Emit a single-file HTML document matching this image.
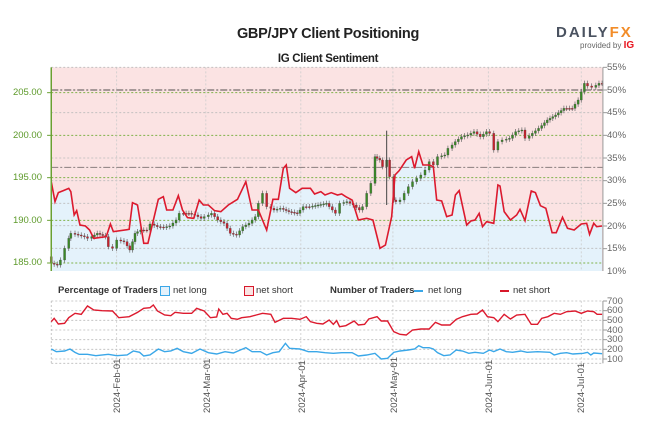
<!DOCTYPE html>
<html><head><meta charset="utf-8"><style>
body{margin:0;background:#fff;width:649px;height:424px;overflow:hidden;position:relative;font-family:"Liberation Sans",sans-serif}
.t{position:absolute;white-space:nowrap}
.gl{color:#5d9a2a;font-size:9.5px;text-align:right;width:40px;left:2px}
.gr{color:#666;font-size:9.5px;left:607px}
.lg{font-size:9.5px;color:#333;top:285px}
.dt{position:absolute;font-size:9.5px;color:#555;transform:rotate(-90deg);transform-origin:left top;white-space:nowrap}
</style></head><body>
<svg id="s" width="649" height="424" viewBox="0 0 1557.6 1272" preserveAspectRatio="none" style="position:absolute;left:0;top:0">
<g id="g"></g>
</svg>
<div class="t" style="left:0;width:656px;text-align:center;top:26px;font-size:14.5px;font-weight:bold;color:#222;letter-spacing:-0.3px">GBP/JPY Client Positioning</div>
<div class="t" style="left:0;width:656px;text-align:center;top:53px;font-size:11.5px;font-weight:bold;color:#222;letter-spacing:-0.3px">IG Client Sentiment</div>
<div class="t" style="left:556px;top:24px;font-size:15px;font-weight:bold;letter-spacing:2px;color:#4a5260">DAILY<span style="color:#f28c28">FX</span></div>
<div class="t" style="left:580px;top:40px;font-size:8px;color:#666">provided by <b style="color:#e8141e;font-size:10px">IG</b></div>
<div class="t gl" style="top:87px">205.00</div>
<div class="t gl" style="top:130px">200.00</div>
<div class="t gl" style="top:172px">195.00</div>
<div class="t gl" style="top:215px">190.00</div>
<div class="t gl" style="top:257px">185.00</div>
<div class="t gr" style="top:62px">55%</div>
<div class="t gr" style="top:85px">50%</div>
<div class="t gr" style="top:107px">45%</div>
<div class="t gr" style="top:130px">40%</div>
<div class="t gr" style="top:153px">35%</div>
<div class="t gr" style="top:175px">30%</div>
<div class="t gr" style="top:198px">25%</div>
<div class="t gr" style="top:221px">20%</div>
<div class="t gr" style="top:243px">15%</div>
<div class="t gr" style="top:266px">10%</div>
<div class="t gr" style="top:296px">700</div>
<div class="t gr" style="top:305px">600</div>
<div class="t gr" style="top:315px">500</div>
<div class="t gr" style="top:325px">400</div>
<div class="t gr" style="top:334px">300</div>
<div class="t gr" style="top:344px">200</div>
<div class="t gr" style="top:354px">100</div>
<div class="t lg" style="left:58px;font-weight:bold">Percentage of Traders</div>
<div class="t" style="left:160px;top:286px;width:8px;height:8px;border:1.5px solid #3aa7e8;background:#e3f1fb"></div>
<div class="t lg" style="left:173px">net long</div>
<div class="t" style="left:244px;top:286px;width:8px;height:8px;border:1.5px solid #d7182a;background:#fae3e3"></div>
<div class="t lg" style="left:256px">net short</div>
<div class="t lg" style="left:330px;font-weight:bold">Number of Traders</div>
<div class="t" style="left:414px;top:290px;width:9px;height:2px;background:#3aa7e8"></div>
<div class="t lg" style="left:428px">net long</div>
<div class="t" style="left:500px;top:290px;width:9px;height:2px;background:#d7182a"></div>
<div class="t lg" style="left:513px">net short</div>
<div class="dt" style="left:112px;top:413px">2024-Feb-01</div>
<div class="dt" style="left:202px;top:413px">2024-Mar-01</div>
<div class="dt" style="left:297px;top:413px">2024-Apr-01</div>
<div class="dt" style="left:389px;top:413px">2024-May-01</div>
<div class="dt" style="left:484px;top:413px">2024-Jun-01</div>
<div class="dt" style="left:576px;top:413px">2024-Jul-01</div>
<script>
const g=document.getElementById('g');const NS='http://www.w3.org/2000/svg';
function el(t,a){const e=document.createElementNS(NS,t);for(const k in a)e.setAttribute(k,a[k]);e.setAttribute('vector-effect','non-scaling-stroke');g.appendChild(e);return e;}
function P(s){return s.trim().split(/\s+/).map(p=>p.split(',').map(Number));}
const L=123,R=1447,T=202,B=813;
el('rect',{x:L,y:T,width:R-L,height:B-T,fill:'#fbe3e3'});
const sent=P(`123,545 132,605 140,578 152,572 165,565 170,575 178,645 184,632 192,675 205,678 215,690 225,715 255,710 265,672 272,695 310,688 318,608 330,615 345,730 355,730 380,598 392,590 400,630 415,630 428,587 438,630 450,653 465,655 478,600 488,615 500,615 515,632 530,635 548,615 570,598 590,545 605,630 620,630 640,690 655,598 668,598 680,505 687,495 695,565 710,578 725,565 745,565 755,582 770,575 780,585 795,578 810,585 820,582 830,590 845,600 860,660 880,655 895,660 912,745 925,735 940,650 948,525 958,512 975,480 988,470 995,505 1005,455 1015,495 1030,495 1040,500 1048,600 1060,603 1072,650 1085,645 1093,585 1102,572 1120,675 1130,663 1140,660 1150,640 1158,680 1168,665 1185,670 1195,555 1200,558 1210,635 1225,660 1240,645 1248,628 1260,662 1275,573 1285,578 1297,617 1310,625 1325,698 1335,698 1350,652 1362,685 1378,690 1395,672 1408,670 1415,703 1425,670 1432,680 1445,678`);
el('polygon',{points:sent.map(p=>p.join(',')).join(' ')+` 1445,${B} 123,${B}`,fill:'#e4f2fb'});
[278,406,533,661,789].forEach(y=>el('line',{x1:L,x2:R,y1:y,y2:y,stroke:'#7fb34a','stroke-dasharray':'2,2','stroke-width':1}));
[202,338,474,542,610,677,745].forEach(y=>el('line',{x1:L,x2:R,y1:y,y2:y,stroke:'#bbb','stroke-dasharray':'2,2','stroke-width':0.8}));
[280,494,722,943,1172,1395].forEach(x=>{el('line',{x1:x,x2:x,y1:T,y2:B,stroke:'#ccc','stroke-dasharray':'2,2','stroke-width':0.8});el('line',{x1:x,x2:x,y1:903,y2:1090,stroke:'#ccc','stroke-dasharray':'2,2','stroke-width':0.8});el('line',{x1:x,x2:x,y1:1090,y2:1100,stroke:'#999','stroke-width':1});});
el('line',{x1:L,x2:R,y1:270,y2:270,stroke:'#8a7f7f','stroke-dasharray':'7,2,2,2','stroke-width':1.5});
el('line',{x1:L,x2:R,y1:502,y2:502,stroke:'#8a7f7f','stroke-dasharray':'7,2,2,2','stroke-width':1});
const pr=P(`123,770 130,790 145,795 155,780 165,745 170,715 180,700 195,705 210,710 220,715 240,700 260,710 270,740 280,745 290,720 305,725 318,750 330,700 345,690 360,690 370,672 385,680 400,682 415,678 430,660 440,640 460,640 475,645 490,655 500,650 515,640 530,660 545,670 560,700 575,705 590,680 605,670 620,650 630,610 640,580 650,620 665,630 680,625 700,635 720,640 735,620 750,620 770,615 790,610 805,630 815,640 825,610 840,605 855,615 870,630 880,620 890,580 900,550 905,470 918,480 928,500 935,480 945,530 950,600 960,605 970,600 980,580 990,560 1000,545 1010,535 1020,525 1030,510 1040,485 1050,495 1060,470 1075,465 1085,445 1100,425 1115,410 1130,405 1145,395 1160,410 1175,395 1185,400 1195,450 1205,425 1215,420 1230,415 1245,395 1260,390 1270,415 1285,400 1300,385 1320,360 1340,345 1360,325 1380,325 1395,300 1410,250 1420,258 1430,262 1445,250`);
let prev=pr[0][1];
for(let i=0;i<pr.length;i++){const [x,y]=pr[i];const n=i<pr.length-1?Math.max(1,Math.round((pr[i+1][0]-x)/8)):1;
 for(let k=0;k<n;k++){const cx=x+k*((i<pr.length-1?pr[i+1][0]:x+8)-x)/n;const ny=i<pr.length-1?y+(pr[i+1][1]-y)*(k+1)/n:y;
 const up=ny<prev;const top=Math.min(prev,ny),bot=Math.max(prev,ny);
 el('line',{x1:cx,x2:cx,y1:top-8,y2:bot+8,stroke:'#666','stroke-width':0.7});
 el('rect',{x:cx-2.5,y:top,width:5,height:Math.max(3,bot-top),fill:up?'#3a8a26':'#c8202c',stroke:'#444','stroke-width':0.3});
 prev=ny;}}
el('line',{x1:928,x2:928,y1:392,y2:615,stroke:'#444','stroke-width':1});
el('polyline',{points:sent.map(p=>p.join(',')).join(' '),fill:'none',stroke:'#dc1a2e','stroke-width':1.6});
el('line',{x1:L,x2:L,y1:T,y2:B,stroke:'#6aa032','stroke-width':1.5});
el('line',{x1:R,x2:R,y1:T,y2:B,stroke:'#999','stroke-width':1});
for(let y=202;y<=813;y+=68)el('line',{x1:R,x2:R+10,y1:y,y2:y,stroke:'#999','stroke-width':1});
[278,406,533,661,789].forEach(y=>el('line',{x1:L-10,x2:L,y1:y,y2:y,stroke:'#6aa032','stroke-width':1}));
[903,932,961,990,1019,1048,1077,1090].forEach(y=>el('line',{x1:L,x2:R,y1:y,y2:y,stroke:'#bbb','stroke-dasharray':'2,2','stroke-width':0.8}));
el('line',{x1:L,x2:L,y1:903,y2:1090,stroke:'#bbb','stroke-dasharray':'2,2','stroke-width':0.8});
el('line',{x1:R,x2:R,y1:903,y2:1090,stroke:'#999','stroke-width':1});
[903,932,961,990,1019,1048,1077].forEach(y=>el('line',{x1:R,x2:R+10,y1:y,y2:y,stroke:'#999','stroke-width':1}));
const rs=P(`123,965 130,955 140,972 155,970 165,953 180,940 195,943 210,918 225,930 245,932 270,933 285,953 310,950 330,937 345,925 360,923 368,915 378,933 395,945 410,947 420,937 440,940 460,940 472,925 490,933 505,953 520,951 525,927 535,943 545,940 555,955 570,958 580,953 600,950 615,945 630,940 650,943 660,967 680,955 700,955 720,958 735,950 745,965 760,970 775,972 790,960 800,973 808,962 815,980 830,977 850,963 860,975 875,973 885,957 905,950 915,963 930,963 945,995 960,1003 975,1005 990,990 1010,987 1030,987 1045,967 1060,975 1080,975 1095,958 1110,950 1130,943 1145,942 1158,930 1170,950 1185,953 1195,965 1210,943 1225,957 1240,945 1260,943 1275,973 1290,973 1300,955 1315,950 1330,940 1345,943 1360,935 1380,933 1395,940 1410,933 1425,935 1433,943 1445,943`);
const bl=P(`123,1047 135,1055 155,1053 168,1047 180,1057 190,1063 210,1063 230,1067 260,1063 280,1067 305,1065 320,1053 335,1057 345,1068 360,1065 380,1047 395,1055 410,1053 425,1045 440,1055 460,1060 480,1047 500,1058 520,1062 540,1055 560,1059 590,1043 605,1055 625,1055 640,1065 655,1058 670,1055 685,1030 695,1045 720,1047 740,1055 760,1055 780,1058 800,1060 820,1058 845,1058 860,1068 880,1065 900,1060 915,1077 930,1075 945,1057 960,1053 980,1050 995,1047 1005,1037 1015,1043 1030,1043 1040,1047 1050,1058 1065,1067 1080,1065 1095,1050 1110,1053 1125,1060 1140,1057 1160,1060 1175,1050 1185,1055 1200,1047 1215,1055 1230,1057 1250,1053 1265,1057 1290,1055 1320,1057 1330,1065 1345,1060 1360,1058 1375,1062 1400,1060 1410,1057 1418,1065 1425,1059 1445,1061`);
el('polyline',{points:rs.map(p=>p.join(',')).join(' '),fill:'none',stroke:'#dc1a2e','stroke-width':1.4});
el('polyline',{points:bl.map(p=>p.join(',')).join(' '),fill:'none',stroke:'#3aa7e8','stroke-width':1.4});
</script>
</body></html>
